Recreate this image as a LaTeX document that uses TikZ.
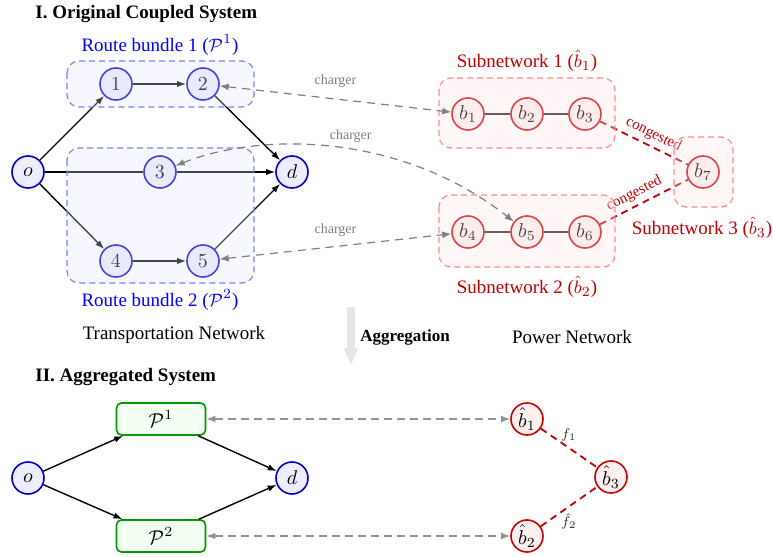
\documentclass[tikz,border=0pt]{standalone}
\usepackage{fontspec}
\setmainfont{Liberation Serif}
\usetikzlibrary{arrows.meta}
\begin{document}
\begin{tikzpicture}[x=0.5pt,y=-0.5pt,
  font=\fontsize{9.5}{11}\selectfont,
  tnode/.style={circle,draw=blue!80!black,fill=blue!7,line width=0.8pt,minimum size=16pt,inner sep=0pt,font=\fontsize{10}{12}\selectfont},
  bnode/.style={circle,draw=red!80!black,fill=red!6,line width=0.8pt,minimum size=16pt,inner sep=0pt,font=\fontsize{10}{12}\selectfont},
  pbox/.style={rectangle,rounded corners=2.5pt,draw=green!60!black,fill=green!5,line width=0.8pt,minimum width=44.5pt,minimum height=16pt,inner sep=0pt,font=\fontsize{10}{12}\selectfont},
  arr/.style={-{Latex[length=4.5pt,width=3.2pt]},line width=0.7pt,black},
  link/.style={line width=0.8pt,black!85},
  congest/.style={dashed,dash pattern=on 3.5pt off 2.5pt,line width=0.9pt,red!75!black},
  charge/.style={{Latex[length=4.5pt,width=3.5pt]}-{Latex[length=4.5pt,width=3.5pt]},dash pattern=on 4pt off 3pt,line width=0.6pt,gray},
  charge2/.style={{Latex[length=4.5pt,width=3.5pt]}-{Latex[length=4.5pt,width=3.5pt]},dash pattern=on 4pt off 2.5pt,line width=0.8pt,gray!85},
  clbl/.style={font=\fontsize{7}{8}\selectfont,text=gray},
  conglbl/.style={font=\fontsize{7.5}{9}\selectfont,text=red!75!black,inner sep=2pt},
  flbl/.style={font=\fontsize{7}{8}\selectfont,text=black!80,inner sep=2pt},
  bluebox/.style={draw=blue!50,fill=blue!10!white,fill opacity=0.3,draw opacity=1,dash pattern=on 3pt off 2pt,line width=0.6pt,rounded corners=6pt},
  redbox/.style={draw=red!45,fill=red!10!white,fill opacity=0.3,draw opacity=1,dash pattern=on 3pt off 2pt,line width=0.6pt,rounded corners=6pt},
  bluelbl/.style={text=blue},
  redlbl/.style={text=red!75!black},
  ttl/.style={font=\fontsize{9.5}{11}\selectfont\bfseries,anchor=west,inner sep=0pt}
]
\useasboundingbox (0,0) rectangle (773,557);

% ---------- Part I ----------
\node[ttl] (t1) at (35,14) {I. Original Coupled System};
\node[bluelbl] (rb1) at (160,45) {Route bundle 1 ($\mathcal{P}^1$)};
\node[bluelbl] (rb2) at (160,300) {Route bundle 2 ($\mathcal{P}^2$)};

\node[tnode] (o) at (28,172) {$o$};
\node[tnode] (d) at (292,172) {$d$};
\node[tnode] (n1) at (116,84) {$1$};
\node[tnode] (n2) at (203,84) {$2$};
\node[tnode] (n3) at (160,172) {$3$};
\node[tnode] (n4) at (116,261) {$4$};
\node[tnode] (n5) at (203,261) {$5$};

\draw[arr] (o) -- (n1);
\draw[arr] (n1) -- (n2);
\draw[arr] (n2) -- (d);
\draw[line width=0.7pt] (o) -- (n3);
\draw[arr] (n3) -- (d);
\draw[arr] (o) -- (n4);
\draw[arr] (n4) -- (n5);
\draw[arr] (n5) -- (d);

% power network
\node[redlbl] (s1) at (527,61) {Subnetwork 1 ($\hat{b}_1$)};
\node[redlbl] (s2) at (527,287) {Subnetwork 2 ($\hat{b}_2$)};
\node[redlbl] (s3) at (702,228) {Subnetwork 3 ($\hat{b}_3$)};

\node[bnode] (b1) at (468,114) {$b_1$};
\node[bnode] (b2) at (527,114) {$b_2$};
\node[bnode] (b3) at (585,114) {$b_3$};
\node[bnode] (b4) at (468,232) {$b_4$};
\node[bnode] (b5) at (527,232) {$b_5$};
\node[bnode] (b6) at (585,232) {$b_6$};
\node[bnode] (b7) at (703,172) {$b_7$};

\draw[link] (b1) -- (b2);
\draw[link] (b2) -- (b3);
\draw[link] (b4) -- (b5);
\draw[link] (b5) -- (b6);
\draw[congest] (b3) -- node[conglbl,sloped,above,pos=0.55] {congested} (b7);
\draw[congest] (b6) -- node[conglbl,sloped,above,pos=0.45] {congested} (b7);

% overlay boxes
\draw[bluebox] (67,61) rectangle (254,107);
\draw[bluebox] (67,148) rectangle (254,283);
\draw[redbox] (439,78) rectangle (615,148);
\draw[redbox] (439,195) rectangle (615,267);
\draw[redbox] (674,137) rectangle (733,207);

% charger links
\draw[charge] (n2) -- node[clbl,above=2pt] {charger} (b1);
\draw[charge] (n3) .. controls (260,132) and (400,132) .. node[clbl,pos=0.5,above=-1pt,xshift=8.5pt] {charger} (b5);
\draw[charge] (n5) -- node[clbl,above=1.5pt] {charger} (b4);

% captions
\node (tn) at (174,335) {Transportation Network};
\node (pn) at (572,337) {Power Network};
\coordinate (ga) at (351,307);
\coordinate (gb) at (351,365);
\draw[gray!20,line width=4pt,-{Triangle[length=8.5pt,width=7pt]}] (ga) -- (gb);
\node[font=\fontsize{8.5}{10}\selectfont\bfseries] (agg) at (405,337) {Aggregation};

% ---------- Part II ----------
\node[ttl] (t2) at (35,377) {II. Aggregated System};
\node[tnode] (o2) at (28,478) {$o$};
\node[tnode] (d2) at (292,478) {$d$};
\node[pbox] (p1) at (161,419) {$\mathcal{P}^1$};
\node[pbox] (p2) at (161,536) {$\mathcal{P}^2$};
\draw[arr] (o2) -- (p1);
\draw[arr] (o2) -- (p2);
\draw[arr] (p1) -- (d2);
\draw[arr] (p2) -- (d2);

\node[bnode] (h1) at (527,419) {$\hat{b}_1$};
\node[bnode] (h2) at (527,536) {$\hat{b}_2$};
\node[bnode] (h3) at (611,477) {$\hat{b}_3$};
\draw[congest] (h1) -- node[flbl,above=1pt] {$f_1$} (h3);
\draw[congest] (h2) -- node[flbl,below=1pt] {$\hat{f}_2$} (h3);

\draw[charge2] (p1) -- (h1);
\draw[charge2] (p2) -- (h2);
\end{tikzpicture}
\end{document}
